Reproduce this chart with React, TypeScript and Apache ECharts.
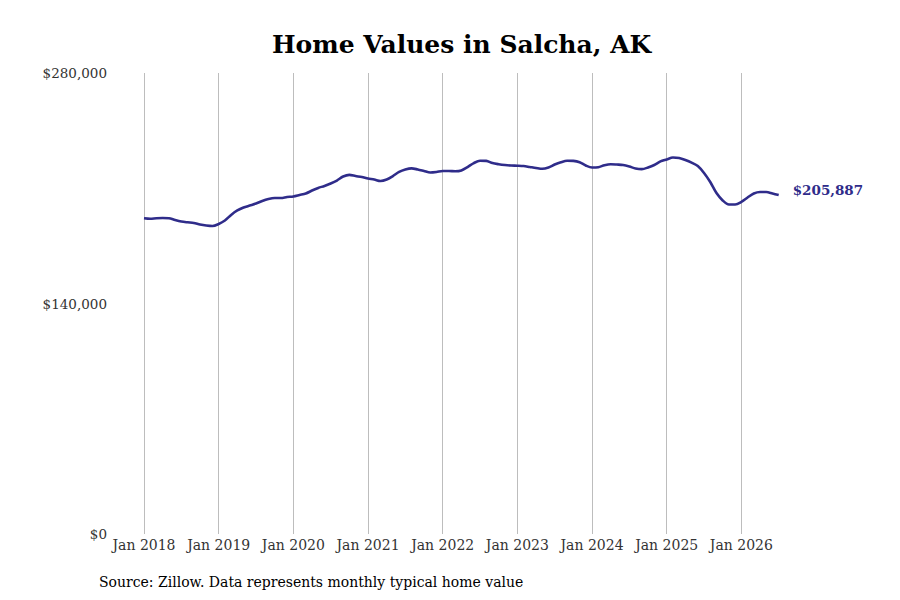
import React, { useEffect, useRef } from "react";
import * as echarts from "echarts";

const MONTHS = ["Jan", "Feb", "Mar", "Apr", "May", "Jun", "Jul", "Aug", "Sep", "Oct", "Nov", "Dec"];
const START_YEAR = 2018;

// Monthly typical home value, Jan 2018 .. Jul 2026
const values: number[] = [
  191800, 191500, 191800, 191900, 191800, 190700, 189800, 189300, 188900, 188000, 187400, 187100,
  188300, 190400, 193800, 196500, 198300, 199500, 200700, 202300, 203500, 204100, 204100, 204700,
  205000, 205900, 206800, 208600, 210200, 211400, 212900, 214700, 217100, 218100, 217400, 216800,
  215900, 215300, 214400, 215300, 217400, 219900, 221400, 222100, 221400, 220500, 219600, 219900,
  220500, 220500, 220300, 220800, 222900, 225300, 226700, 226600, 225300, 224600, 224100, 223800,
  223700, 223500, 222900, 222300, 221800, 222600, 224400, 225800, 226700, 226600, 225800, 223800,
  222600, 222800, 224000, 224600, 224400, 224100, 223200, 222000, 221600, 222600, 224100, 226300,
  227500, 228700, 228400, 227200, 225600, 223500, 219300, 213800, 207100, 202600, 200100, 200100,
  201700, 204400, 206800, 207700, 207700, 206800, 205887,
];

const categories: string[] = values.map(
  (_, i) => `${MONTHS[i % 12]} ${START_YEAR + Math.floor(i / 12)}`
);

const yTicks = [0, 140000, 280000];

const TITLE = "Home Values in Salcha, AK";
const SOURCE = "Source: Zillow. Data represents monthly typical home value";
const LINE_COLOR = "#2f2c8a";
const FONT = "'DejaVu Serif', serif";

export default function App() {
  const ref = useRef<HTMLDivElement>(null);
  useEffect(() => {
    document.body.style.margin = "0";
    if (!ref.current) return;
    const chart = echarts.init(ref.current, null, { renderer: "svg" });
    const fmt = (v: number) => "$" + v.toLocaleString("en-US");
    chart.setOption({
      animation: false,
      backgroundColor: "#ffffff",
      textStyle: { fontFamily: FONT },
      title: {
        text: TITLE,
        left: 267,
        top: 27,
        textStyle: { fontFamily: FONT, fontSize: 25, fontWeight: "bold", color: "#000" },
      },
      graphic: [
        {
          type: "text",
          left: 99,
          top: 575,
          style: { text: SOURCE, fontFamily: FONT, fontSize: 14, fill: "#000" },
        },
      ],
      grid: { left: 144, right: 121.3, top: 73, bottom: 66, containLabel: false },
      xAxis: {
        type: "category",
        data: categories,
        boundaryGap: false,
        axisLine: { show: false },
        axisTick: { show: false },
        axisLabel: {
          interval: (i: number) => i % 12 === 0,
          fontFamily: FONT,
          fontSize: 14,
          color: "#333",
          margin: 4,
        },
        splitLine: {
          show: true,
          interval: (i: number) => i % 12 === 0,
          lineStyle: { color: "#bdbdbd", width: 1 },
        },
      },
      yAxis: {
        type: "value",
        min: yTicks[0],
        max: yTicks[yTicks.length - 1],
        interval: yTicks[1] - yTicks[0],
        axisLine: { show: false },
        axisTick: { show: false },
        splitLine: { show: false },
        axisLabel: {
          formatter: (v: number) => fmt(v),
          fontFamily: FONT,
          fontSize: 13.5,
          color: "#333",
          margin: 37,
        },
      },
      series: [
        {
          type: "line",
          data: values,
          smooth: 0.3,
          showSymbol: false,
          symbol: "none",
          lineStyle: { color: LINE_COLOR, width: 2.6 },
          itemStyle: { color: LINE_COLOR },
          endLabel: {
            show: true,
            formatter: (p: any) => fmt(p.value),
            fontFamily: FONT,
            fontSize: 13.5,
            fontWeight: "bold",
            color: LINE_COLOR,
            distance: 14,
            offset: [0, -5],
          },
        },
      ],
    });
    return () => chart.dispose();
  }, []);
  return <div ref={ref} style={{ width: 900, height: 600 }} />;
}
